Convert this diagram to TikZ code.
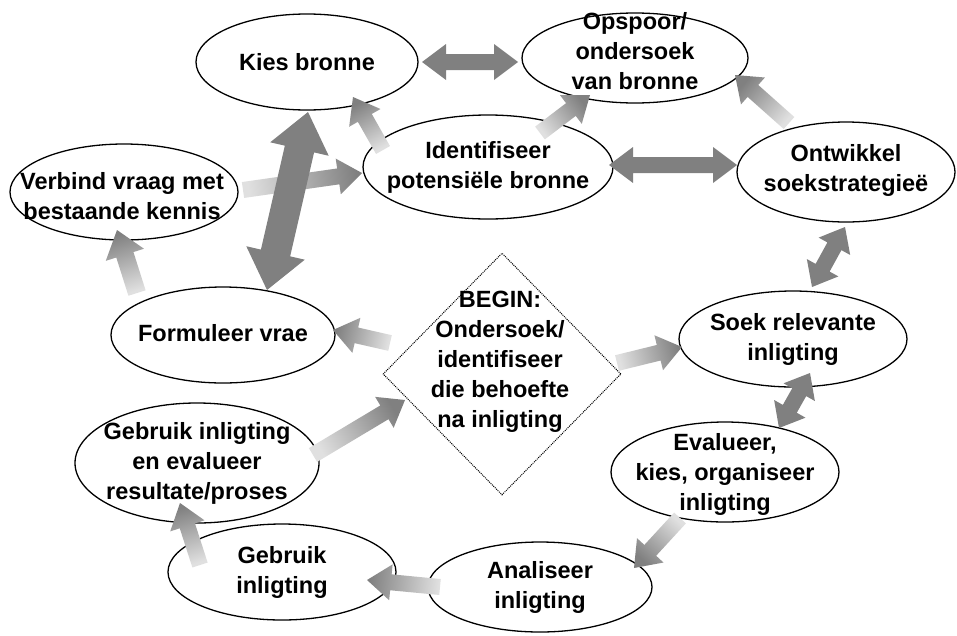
\documentclass[tikz,border=0pt]{standalone}
\usepackage{fontspec}
\setmainfont{Liberation Sans}
\usetikzlibrary{calc,shapes.geometric}
\definecolor{headc}{gray}{0.5}
\definecolor{tailc}{gray}{0.88}
\definecolor{midc}{gray}{0.8}
\tikzset{
  bub/.style={ellipse, draw=black, line width=1.3pt, fill=white, inner sep=0pt},
  txt/.style={align=center, font=\fontsize{23.5}{30}\selectfont\bfseries, inner sep=0pt, text=black},
}
% single fat arrow: #1 tail, #2 head, #3 half shaft, #4 half head width, #5 head length
\newcommand\fatarrow[5]{%
  \coordinate (fT) at #1; \coordinate (fH) at #2;
  \coordinate (fN) at ($(fH)!#5!(fT)$);
  \pgfmathanglebetweenpoints{\pgfpointanchor{fT}{center}}{\pgfpointanchor{fH}{center}}%
  \let\fang\pgfmathresult
  \pgfmathsetmacro\fsh{\fang+90}%
  \shade[left color=tailc, right color=headc, shading angle=\fsh]
    ($(fT)!#3!90:(fH)$) -- ($(fN)!#3!-90:(fT)$) -- ($(fN)!#4!-90:(fT)$) -- (fH)
    -- ($(fN)!#4!90:(fT)$) -- ($(fN)!#3!90:(fT)$) -- ($(fT)!#3!-90:(fH)$) -- cycle;
}
\newcommand\fatdarrow[5]{%
  \coordinate (fT) at #1; \coordinate (fH) at #2;
  \coordinate (fN) at ($(fH)!#5!(fT)$);
  \coordinate (fM) at ($(fT)!#5!(fH)$);
  \pgfmathanglebetweenpoints{\pgfpointanchor{fT}{center}}{\pgfpointanchor{fH}{center}}%
  \let\fang\pgfmathresult
  \pgfmathsetmacro\fsh{\fang+90}%
  \shade[left color=headc, middle color=midc, right color=headc, shading angle=\fsh]
    (fT) -- ($(fM)!#4!90:(fH)$) -- ($(fM)!#3!90:(fH)$) -- ($(fN)!#3!-90:(fT)$)
    -- ($(fN)!#4!-90:(fT)$) -- (fH) -- ($(fN)!#4!90:(fT)$) -- ($(fN)!#3!90:(fT)$)
    -- ($(fM)!#3!-90:(fH)$) -- ($(fM)!#4!-90:(fH)$) -- cycle;
}
\begin{document}
\begin{tikzpicture}[x=1pt,y=-1pt]
\useasboundingbox (0,0) rectangle (957,635);
\fill[white] (0,0) rectangle (957,635);
% shapes
\node[bub, minimum width=222pt, minimum height=96pt] (kies) at (307,62) {};
\node[bub, minimum width=226pt, minimum height=90pt] (opsp) at (635,58) {};
\node[bub, minimum width=228pt, minimum height=96pt] (verb) at (124,192) {};
\node[bub, minimum width=250pt, minimum height=104pt] (ident) at (488,167) {};
\node[bub, minimum width=218pt, minimum height=100pt] (ontw) at (846,172) {};
\node[bub, minimum width=228pt, minimum height=96pt] (soek) at (793,339) {};
\node[bub, minimum width=228pt, minimum height=100pt] (eval) at (725,472) {};
\node[bub, minimum width=224pt, minimum height=90pt] (anal) at (540,587) {};
\node[bub, minimum width=228pt, minimum height=96pt] (gebr) at (282,572) {};
\node[bub, minimum width=244pt, minimum height=120pt] (geval) at (197,463) {};
\node[bub, minimum width=224pt, minimum height=96pt] (form) at (223,335) {};
\node[diamond, draw=black, densely dotted, line width=1pt, fill=white, inner sep=0pt,
      minimum width=238pt, minimum height=242pt] (start) at (502,374) {};
% arrows
\fatdarrow{([shift={(115,0)}]kies.center)}{([shift={(-117,4)}]opsp.center)}{8pt}{18pt}{24pt}
\fatarrow{([shift={(52,-34)}]ident.center)}{([shift={(-45,37)}]opsp.center)}{8pt}{18pt}{24pt}
\fatdarrow{([shift={(121,-2)}]ident.center)}{([shift={(-109,-7)}]ontw.center)}{8pt}{18pt}{24pt}
\fatarrow{([shift={(-57,-49)}]ontw.center)}{([shift={(100,17)}]opsp.center)}{8pt}{18pt}{24pt}
\fatdarrow{([shift={(-1,55)}]ontw.center)}{([shift={(19,-52)}]soek.center)}{8pt}{18pt}{22pt}
\fatdarrow{([shift={(17,34)}]soek.center)}{([shift={(54,-44)}]eval.center)}{8pt}{18pt}{22pt}
\fatarrow{([shift={(-45,46)}]eval.center)}{([shift={(94,-19)}]anal.center)}{8pt}{18pt}{24pt}
\fatarrow{([shift={(-100,0)}]anal.center)}{([shift={(85,8)}]gebr.center)}{8pt}{18pt}{24pt}
\fatarrow{([shift={(-82,-7)}]gebr.center)}{([shift={(-17,40)}]geval.center)}{8pt}{18pt}{24pt}
\fatarrow{([shift={(116,-8)}]geval.center)}{([shift={(-97,26)}]start.center)}{8pt}{18pt}{24pt}
\fatarrow{([shift={(-112,-31)}]start.center)}{([shift={(110,-5)}]form.center)}{8pt}{18pt}{24pt}
\fatarrow{([shift={(115,-11)}]start.center)}{([shift={(-111,8)}]soek.center)}{8pt}{18pt}{24pt}
\fatarrow{([shift={(-86,-42)}]form.center)}{([shift={(-7,38)}]verb.center)}{9pt}{20pt}{26pt}
\fatarrow{([shift={(119,-2)}]verb.center)}{([shift={(-126,6)}]ident.center)}{8pt}{18pt}{24pt}
\fatdarrow{([shift={(1,50)}]kies.center)}{([shift={(44,-45)}]form.center)}{15pt}{30pt}{38pt}
\fatarrow{([shift={(-105,-17)}]ident.center)}{([shift={(46,35)}]kies.center)}{8pt}{18pt}{24pt}
% texts
\node[txt] (kiesT) at (kies.center) {Kies bronne};
\node[txt] (opspT) at ([shift={(0,-7)}]opsp.center) {Opspoor/\\ondersoek\\van bronne};
\node[txt] (verbT) at ([shift={(-2,4)}]verb.center) {Verbind vraag met\\bestaande kennis};
\node[txt] (identT) at (ident.center) {Identifiseer\\potensiële bronne};
\node[txt] (ontwT) at ([shift={(0,-2)}]ontw.center) {Ontwikkel\\soekstrategieë};
\node[txt] (soekT) at (soek.center) {Soek relevante\\inligting};
\node[txt] (evalT) at ([shift={(0,2)}]eval.center) {Evalueer,\\kies, organiseer\\inligting};
\node[txt] (analT) at (anal.center) {Analiseer\\inligting};
\node[txt] (gebrT) at (gebr.center) {Gebruik\\inligting};
\node[txt] (gevalT) at (geval.center) {Gebruik inligting\\en evalueer\\resultate/proses};
\node[txt] (formT) at ([shift={(0,-2)}]form.center) {Formuleer vrae};
\node[txt] (startT) at ([shift={(-2,-12)}]start.center) {BEGIN:\\Ondersoek/\\identifiseer\\die behoefte\\na inligting};
\end{tikzpicture}
\end{document}
